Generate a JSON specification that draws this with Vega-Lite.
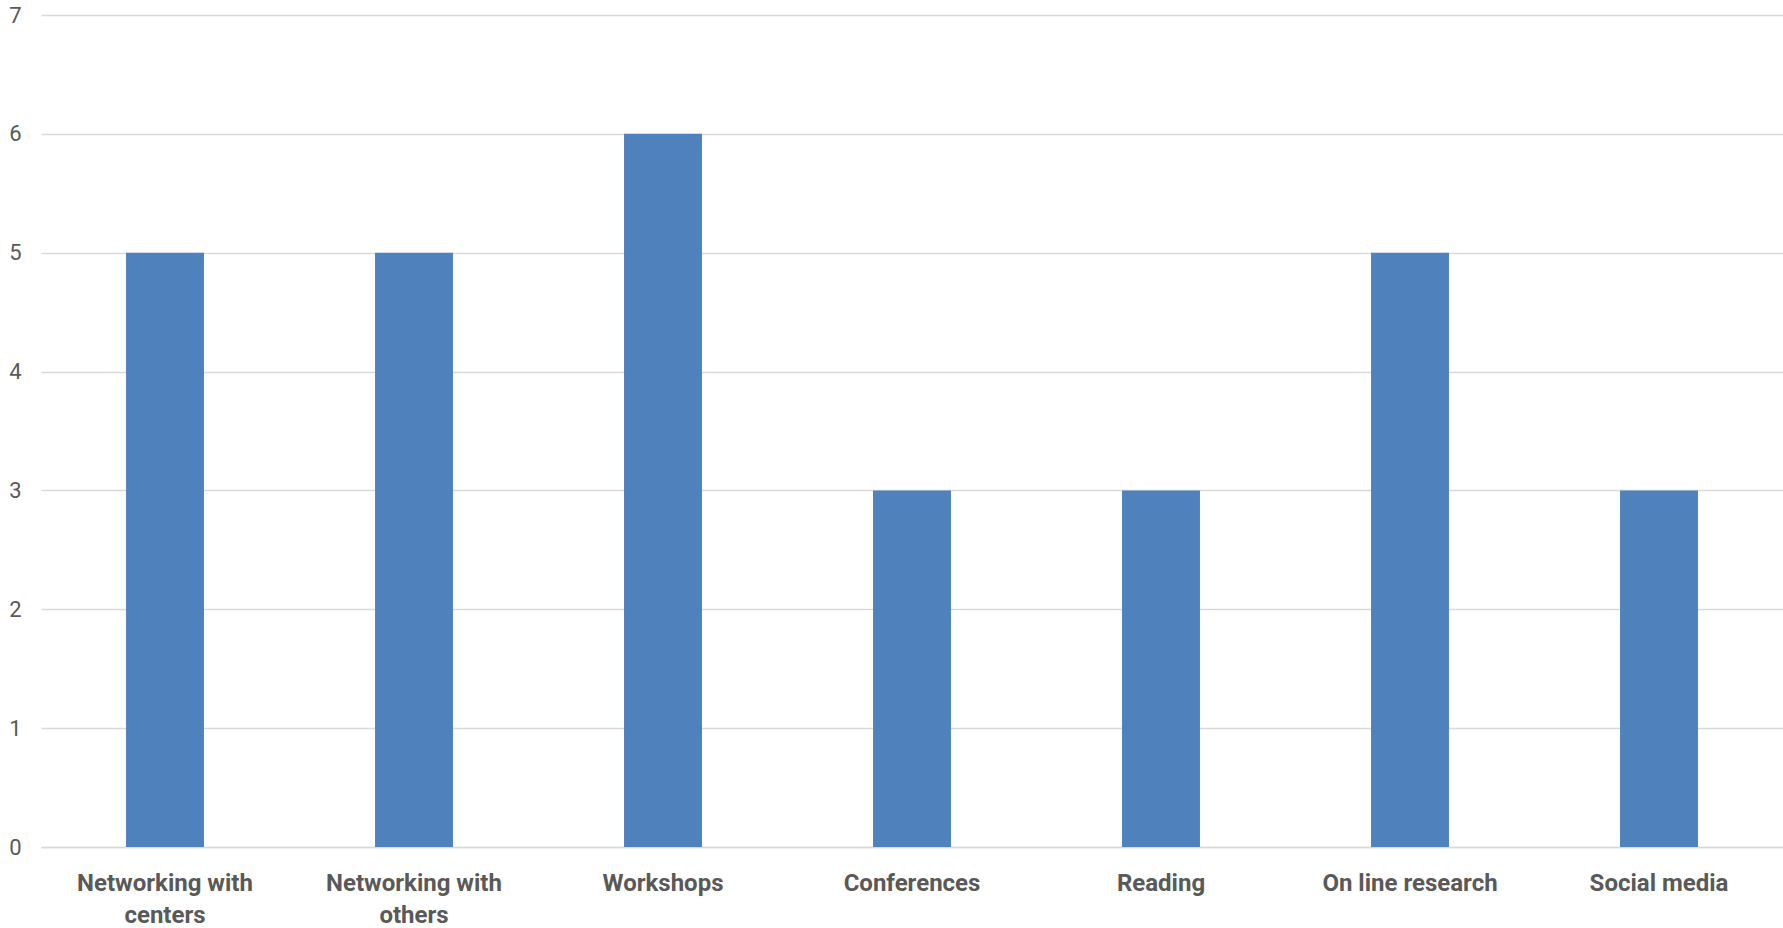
{
  "$schema": "https://vega.github.io/schema/vega-lite/v6.json",
  "width": 1742,
  "height": 832,
  "autosize": {"type": "none"},
  "padding": {"left": 41, "top": 15, "right": 0, "bottom": 81},
  "background": "white",
  "config": {"view": {"stroke": null}},
  "data": {"values": [
    {"category": "Networking with centers", "value": 5},
    {"category": "Networking with others", "value": 5},
    {"category": "Workshops", "value": 6},
    {"category": "Conferences", "value": 3},
    {"category": "Reading", "value": 3},
    {"category": "On line research", "value": 5},
    {"category": "Social media", "value": 3}
  ]},
  "mark": {"type": "bar", "color": "#4f81bd"},
  "encoding": {
    "x": {
      "field": "category", "type": "nominal", "sort": null,
      "scale": {"paddingInner": 0.687, "paddingOuter": 0.3415},
      "axis": {
        "title": null, "labelAngle": 0, "ticks": false,
        "domain": true, "domainColor": "#d9d9d9", "domainWidth": 1.5,
        "labelFont": "Roboto", "labelFontWeight": "bold",
        "labelFontSize": 24, "labelColor": "#595959", "labelPadding": 24,
        "labelLineHeight": 32, "labelLimit": 400, "labelOverlap": false,
        "labelExpr": "indexof(datum.label,'Networking with ')==0 ? ['Networking with', substring(datum.label,16)] : datum.label"
      }
    },
    "y": {
      "field": "value", "type": "quantitative",
      "scale": {"domain": [0, 7], "nice": false},
      "axis": {
        "title": null, "values": [0,1,2,3,4,5,6,7],
        "domain": false, "ticks": false, "labelOverlap": false, "labelBound": false,
        "grid": true, "gridColor": "#d9d9d9", "gridWidth": 1.5,
        "labelFont": "Roboto", "labelFontSize": 22,
        "labelColor": "#595959", "labelPadding": 20
      }
    }
  }
}
